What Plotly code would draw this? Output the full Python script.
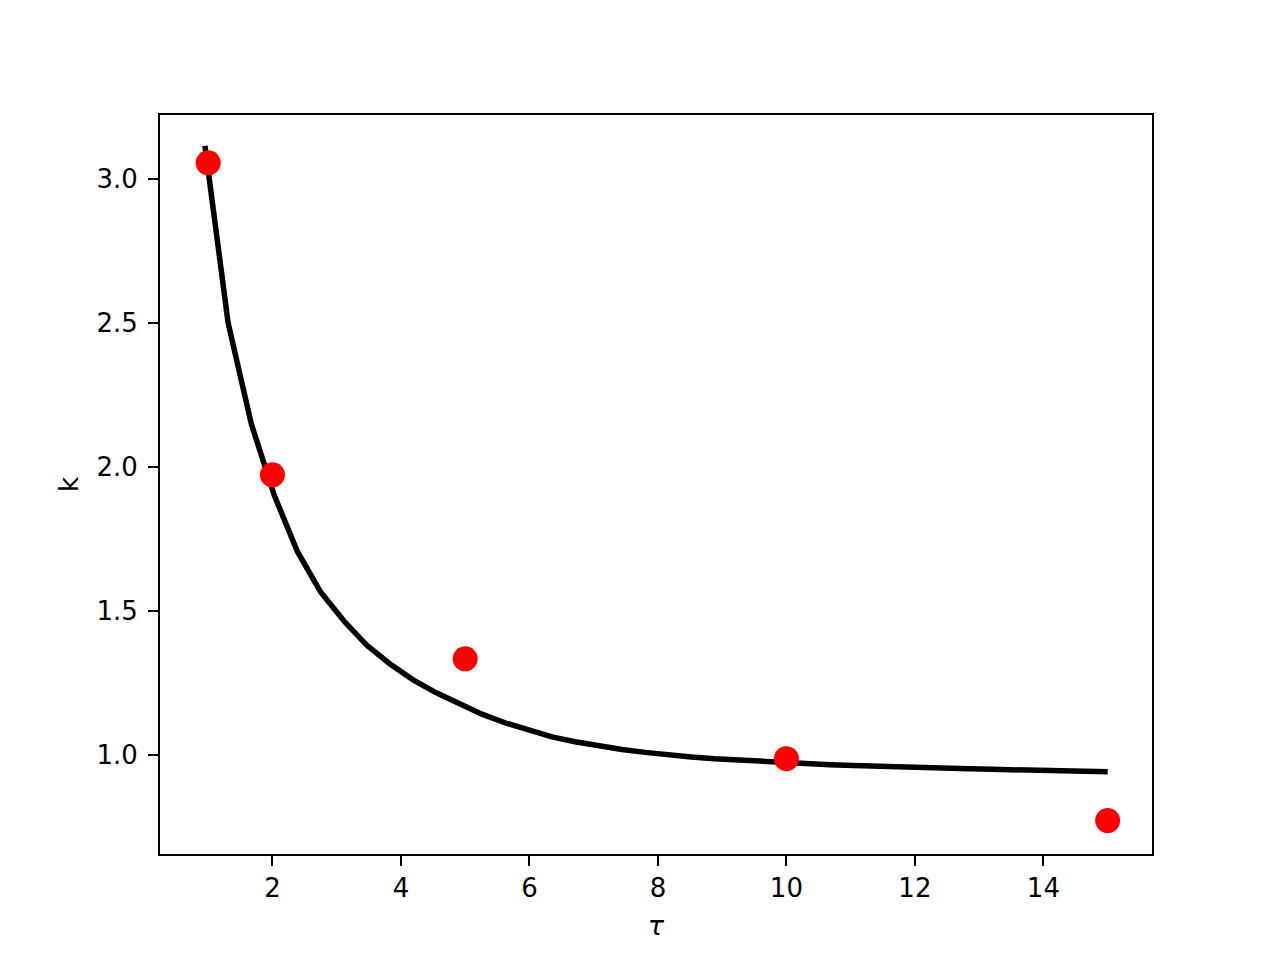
import plotly.graph_objects as go

# ── Data ──
tau_fit = [0.95, 1.31, 1.67, 2.03, 2.39, 2.75, 3.11, 3.47, 3.83, 4.19,
           4.55, 4.91, 5.27, 5.63, 5.99, 6.35, 6.71, 7.07, 7.44, 7.80,
           8.16, 8.52, 8.88, 9.24, 9.60, 9.96, 10.32, 10.68, 11.04, 11.40,
           11.76, 12.12, 12.48, 12.84, 13.20, 13.56, 13.92, 14.28, 14.64, 15.00]
k_fit = [3.115, 2.50, 2.15, 1.90, 1.705, 1.565, 1.465, 1.38, 1.315, 1.26,
         1.215, 1.175, 1.14, 1.11, 1.085, 1.062, 1.045, 1.03, 1.018, 1.008,
         0.999, 0.992, 0.986, 0.981, 0.976, 0.972, 0.968, 0.965, 0.962, 0.959,
         0.957, 0.955, 0.953, 0.951, 0.949, 0.947, 0.946, 0.944, 0.943, 0.941]

tau_obs = [1, 2, 5, 10, 15]
k_obs = [3.056, 1.972, 1.333, 0.986, 0.771]

x_ticks = [2, 4, 6, 8, 10, 12, 14]
y_ticks = [1.0, 1.5, 2.0, 2.5, 3.0]

fig = go.Figure()

fig.add_trace(go.Scatter(
    x=tau_fit, y=k_fit, mode="lines",
    line=dict(color="black", width=5.5),
    showlegend=False,
))
fig.add_trace(go.Scatter(
    x=tau_obs, y=k_obs, mode="markers",
    marker=dict(color="red", size=25, line=dict(width=0)),
    showlegend=False,
))

axis_common = dict(
    showgrid=False, zeroline=False,
    showline=True, linecolor="black", linewidth=2, mirror=True,
    ticks="outside", ticklen=10, tickwidth=2, tickcolor="black",
    tickfont=dict(family="DejaVu Sans", size=26, color="black"),
)

# page body adds an 8px offset, so margins are shifted by that much
fig.update_layout(
    width=1280, height=960,
    paper_bgcolor="white", plot_bgcolor="white",
    margin=dict(l=152, r=136, t=107, b=114),
    font=dict(family="DejaVu Sans", color="black"),
    xaxis=dict(
        range=[0.25, 15.69], tickvals=x_ticks,
        ticklabelstandoff=0,
        title=dict(text="<i>τ</i>", font=dict(size=27), standoff=14),
        **axis_common,
    ),
    yaxis=dict(
        range=[0.655, 3.222], tickvals=y_ticks, tickformat=".1f",
        ticklabelstandoff=5,
        title=dict(text="k", font=dict(size=27), standoff=10),
        **axis_common,
    ),
)

fig.write_html("out.html")
